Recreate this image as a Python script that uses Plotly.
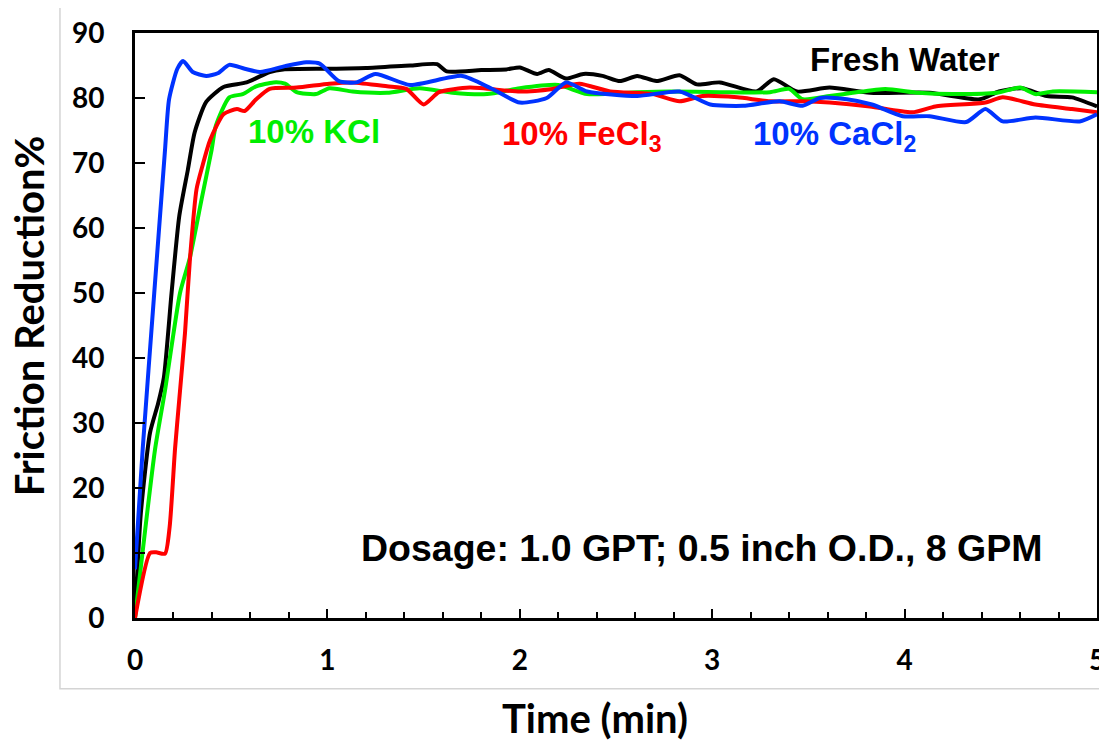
import plotly.graph_objects as go

# ---- data ----
t_fresh = [0, 0.03, 0.078, 0.12, 0.15, 0.19, 0.23, 0.275, 0.31, 0.37, 0.46, 0.58, 0.70, 0.77, 1.0, 1.2,
           1.43, 1.57, 1.62, 1.8, 1.93, 2.0, 2.09, 2.15, 2.24, 2.33, 2.43, 2.52, 2.61, 2.71, 2.83, 2.92,
           3.04, 3.23, 3.32, 3.44, 3.61, 3.82, 4.13, 4.39, 4.49, 4.61, 4.74, 4.87, 5.0]
v_fresh = [0, 16, 28.5, 33, 37, 50, 61.8, 69, 74.7, 79.4, 81.7, 82.4, 84, 84.4, 84.5, 84.6,
           85, 85.2, 84.1, 84.3, 84.4, 84.7, 83.7, 84.3, 83, 83.7, 83.4, 82.6, 83.4, 82.6, 83.5, 82.1,
           82.4, 81, 82.9, 81, 81.6, 80.8, 80.8, 79.8, 81, 81.5, 80.3, 80.1, 78.7]

t_kcl = [0, 0.104, 0.156, 0.234, 0.285, 0.346, 0.398, 0.42, 0.49, 0.56, 0.63, 0.72, 0.78, 0.84, 0.94,
         1.01, 1.13, 1.31, 1.48, 1.65, 1.83, 2.0, 2.2, 2.35, 2.61, 2.78, 3.04, 3.3, 3.40, 3.47, 3.61,
         3.73, 3.9, 4.07, 4.25, 4.48, 4.6, 4.68, 4.77, 5.0]
v_kcl = [0, 25.9, 35, 50, 55.4, 64.4, 72, 75.7, 80.1, 80.6, 81.8, 82.4, 82.2, 80.9, 80.6,
         81.5, 81, 80.8, 81.5, 80.8, 80.6, 81.5, 82, 80.6, 80.9, 81, 80.9, 80.9, 81.4, 79.8, 80.3,
         80.8, 81.4, 80.8, 80.6, 80.8, 81.6, 80.6, 81, 80.9]

t_fecl3 = [0, 0.078, 0.11, 0.156, 0.18, 0.208, 0.23, 0.26, 0.285, 0.32, 0.35, 0.39, 0.46, 0.53, 0.57,
           0.63, 0.70, 0.84, 1.01, 1.13, 1.31, 1.41, 1.5, 1.58, 1.74, 2.0, 2.17, 2.31, 2.47, 2.69,
           2.83, 2.95, 3.13, 3.3, 3.47, 3.61, 3.82, 4.04, 4.16, 4.42, 4.51, 4.68, 4.87, 5.0]
v_fecl3 = [0, 10, 10.1, 9.9, 14, 26, 33.6, 43.9, 55, 66, 69.5, 73.5, 77.5, 78.3, 78,
           79.8, 81.4, 81.6, 82.2, 82.4, 81.8, 81.4, 79, 80.9, 81.6, 81, 81.4, 82.2, 81, 80.6,
           79.5, 80.3, 80.1, 79.5, 79.5, 79.3, 78.7, 77.8, 78.7, 79.3, 80.1, 79, 78.3, 77.8]

t_cacl2 = [0, 0.04, 0.1, 0.156, 0.177, 0.22, 0.25, 0.30, 0.37, 0.43, 0.49, 0.57, 0.65, 0.78, 0.89,
           0.96, 1.06, 1.15, 1.25, 1.43, 1.70, 1.85, 2.0, 2.14, 2.24, 2.35, 2.61, 2.83, 2.99, 3.16,
           3.35, 3.47, 3.56, 3.7, 3.83, 3.99, 4.13, 4.32, 4.42, 4.51, 4.68, 4.91, 5.0]
v_cacl2 = [7.5, 26, 50, 72, 79.8, 84.5, 85.7, 84, 83.4, 83.8, 85.1, 84.5, 84, 84.9, 85.5,
           85.3, 82.6, 82.4, 83.7, 82, 83.4, 81.5, 79.3, 80, 82.4, 81, 80.3, 81, 79, 78.8,
           79.5, 78.8, 80, 79.8, 79, 77.2, 77.2, 76.3, 78.3, 76.4, 77, 76.4, 77.5]

x_ticks = [0, 1, 2, 3, 4, 5]
y_ticks = [0, 10, 20, 30, 40, 50, 60, 70, 80, 90]

series = [
    ("Fresh Water", t_fresh, v_fresh, "#000000"),
    ("10% KCl", t_kcl, v_kcl, "#00ee00"),
    ("10% FeCl3", t_fecl3, v_fecl3, "#ff0000"),
    ("10% CaCl2", t_cacl2, v_cacl2, "#0033ff"),
]

fig = go.Figure()
for name, t, v, c in series:
    fig.add_trace(go.Scatter(x=t, y=v, mode="lines", name=name,
                             line=dict(color=c, width=4, shape="spline", smoothing=0.6)))

ARIAL = "Arial, Liberation Sans, sans-serif"
TICKF = "Lato, Calibri, Arial, sans-serif"

# the page body has an 8px margin, so the figure is sized/offset to land on the viewport
fig.update_layout(
    width=1099, height=732,
    margin=dict(l=127, r=10, t=25, b=122),
    paper_bgcolor="white", plot_bgcolor="white",
    showlegend=False,
    xaxis=dict(range=[0, 5], tickvals=x_ticks, showgrid=False, zeroline=False, automargin=False,
               showline=True, mirror=True, linecolor="black", linewidth=3,
               ticks="inside", ticklen=9, tickwidth=2, tickcolor="black",
               minor=dict(dtick=0.2, ticks="inside", ticklen=6, tickwidth=2, tickcolor="black", showgrid=False),
               tickfont=dict(family=TICKF, size=28, color="black", weight="bold"),
               ticklabelstandoff=15),
    yaxis=dict(range=[0, 90], tickvals=y_ticks, showgrid=False, zeroline=False, automargin=False,
               showline=True, mirror=True, linecolor="black", linewidth=3,
               ticks="inside", ticklen=10, tickwidth=2, tickcolor="black",
               tickfont=dict(family=TICKF, size=28, color="black", weight="bold"),
               ticklabelstandoff=22),
)

# figure frame
fig.add_shape(type="rect", xref="paper", yref="paper", x0=-0.078, x1=1.03, y0=-0.121, y1=1.048,
              line=dict(color="#d4d4d4", width=1.5), fillcolor="rgba(0,0,0,0)", layer="below")

def ann(text, x, y, color, size, xanchor="center", **kw):
    fig.add_annotation(text=text, x=x, y=y, xref="x", yref="y", showarrow=False,
                       xanchor=xanchor, yanchor="middle",
                       font=dict(family=ARIAL, size=size, color=color, weight="bold"), **kw)

ann("Fresh Water", 4.0, 85.9, "black", 33)
ann("10% KCl", 0.93, 74.9, "#00ee00", 33)
ann("10% FeCl<sub>3</sub>", 1.895, 74.2, "#ff0000", 33, xanchor="left")
ann("10% CaCl<sub>2</sub>", 3.20, 74.2, "#0033ff", 33, xanchor="left")
ann("Dosage: 1.0 GPT; 0.5 inch O.D., 8 GPM", 2.945, 10.8, "black", 37.5)

fig.add_annotation(text="Friction Reduction%", x=-0.110, y=0.516, xref="paper", yref="paper",
                   showarrow=False, textangle=-90, xanchor="center", yanchor="middle",
                   font=dict(family=TICKF, size=40, color="black", weight="bold"))
fig.add_annotation(text="Time (min)", x=0.478, y=-0.171, xref="paper", yref="paper",
                   showarrow=False, xanchor="center", yanchor="middle",
                   font=dict(family=TICKF, size=40, color="black", weight="bold"))

fig.write_html("out.html")
